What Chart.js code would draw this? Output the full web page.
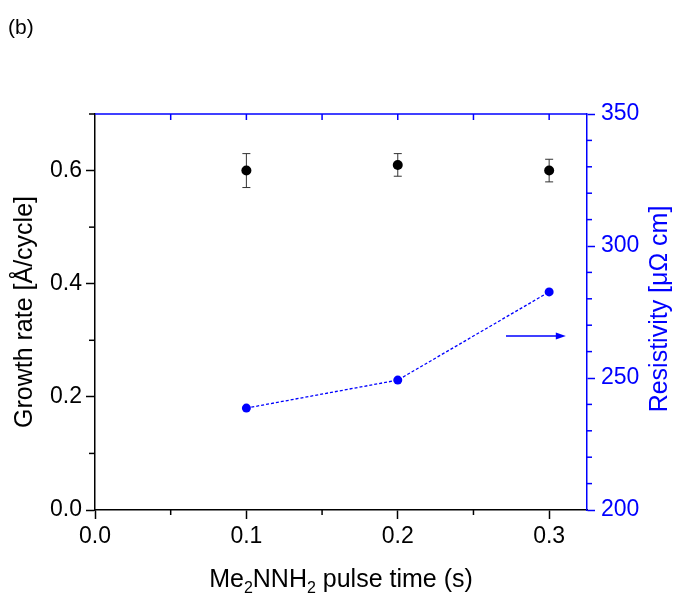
<!DOCTYPE html>
<html>
<head>
<meta charset="utf-8">
<script src="https://cdn.jsdelivr.net/npm/chart.js@4.4.1/dist/chart.umd.min.js"></script>
<style>
body{margin:0;background:#fff;}
canvas{display:block;}
</style>
</head>
<body>
<canvas id="chart" width="674" height="593"></canvas>
<script>
let pulseTime = [0.1, 0.2, 0.3];
let growthRate = [0.60, 0.61, 0.60];
let growthErr = [0.03, 0.02, 0.02];
let resistivity = [238.6, 249.2, 282.6];

let xLabels = [0, 0.1, 0.2, 0.3];
let leftLabels = [0, 0.2, 0.4, 0.6];
let rightLabels = [200, 250, 300, 350];

let blue = "#0000ff";
let font = "'Liberation Sans', Arial, sans-serif";

function isMajor(v, list){
return list.some(m => Math.abs(m - v) < 1e-7);
}

function onStep(v, step){
return Math.abs(v/step - Math.round(v/step)) < 1e-6;
}

function line(ctx, x1, y1, x2, y2){
ctx.beginPath();
ctx.moveTo(x1, y1);
ctx.lineTo(x2, y2);
ctx.stroke();
}

let framePlugin = {
id: "frame",
beforeDatasetsDraw(chart){
let ctx = chart.ctx;
let a = chart.chartArea;
let sx = chart.scales.x, sy = chart.scales.y, sy1 = chart.scales.y1;
ctx.save();
ctx.lineWidth = 1.5;

// minor ticks
ctx.strokeStyle = "#000";
sx.ticks.forEach(t => {
if(!isMajor(t.value, xLabels) && onStep(t.value, 0.05)){
let px = sx.getPixelForValue(t.value);
line(ctx, px, a.bottom, px, a.bottom + 5);
}
});
sy.ticks.forEach(t => {
if(!isMajor(t.value, leftLabels)){
let py = sy.getPixelForValue(t.value);
line(ctx, a.left, py, a.left - 6, py);
}
});
ctx.strokeStyle = blue;
sy1.ticks.forEach(t => {
if(!isMajor(t.value, rightLabels)){
let py = sy1.getPixelForValue(t.value);
line(ctx, a.right, py, a.right + 5, py);
}
});

// top frame
line(ctx, a.left, a.top, a.right, a.top);
sx.ticks.forEach(t => {
if(t.value > 0 && onStep(t.value, 0.05)){
let px = sx.getPixelForValue(t.value);
line(ctx, px, a.top, px, a.top + 6);
}
});

// error bars
ctx.strokeStyle = "#333";
ctx.lineWidth = 1;
for(let i = 0; i < pulseTime.length; i++){
let px = sx.getPixelForValue(pulseTime[i]);
let top = sy.getPixelForValue(growthRate[i] + growthErr[i]);
let bot = sy.getPixelForValue(growthRate[i] - growthErr[i]);
line(ctx, px, top, px, bot);
line(ctx, px - 4, top, px + 4, top);
line(ctx, px - 4, bot, px + 4, bot);
}
ctx.restore();
},
afterDraw(chart){
let ctx = chart.ctx;
let a = chart.chartArea;
let sx = chart.scales.x, sy1 = chart.scales.y1;
ctx.save();

ctx.fillStyle = "#000";
ctx.font = "21px " + font;
ctx.textBaseline = "middle";
ctx.textAlign = "left";
ctx.fillText("(b)", 8, 28);

// left title
ctx.font = "25px " + font;
ctx.textAlign = "center";
ctx.save();
ctx.translate(25, (a.top + a.bottom)/2);
ctx.rotate(-Math.PI/2);
ctx.fillText("Growth rate [Å/cycle]", 0, 0);
ctx.restore();

// right title
ctx.fillStyle = blue;
ctx.save();
ctx.translate(660, (a.top + a.bottom)/2 - 3);
ctx.rotate(-Math.PI/2);
ctx.fillText("Resistivity [μΩ cm]", 0, 0);
ctx.restore();

// x title with subscripts
ctx.fillStyle = "#000";
ctx.textAlign = "left";
ctx.textBaseline = "alphabetic";
let parts = [["Me", false], ["2", true], ["NNH", false], ["2", true], [" pulse time (s)", false]];
let total = 0;
parts.forEach(p => {
ctx.font = (p[1] ? "16px " : "25px ") + font;
total += ctx.measureText(p[0]).width;
});
let cx = (a.left + a.right)/2 - total/2;
parts.forEach(p => {
ctx.font = (p[1] ? "16px " : "25px ") + font;
ctx.fillText(p[0], cx, p[1] ? 593 : 587);
cx += ctx.measureText(p[0]).width;
});

// arrow pointing to right axis
let ax1 = sx.getPixelForValue(0.2715);
let ax2 = sx.getPixelForValue(0.311);
let ay = sy1.getPixelForValue(265.9);
ctx.strokeStyle = blue;
ctx.fillStyle = blue;
ctx.lineWidth = 1.3;
line(ctx, ax1, ay, ax2 - 8, ay);
ctx.beginPath();
ctx.moveTo(ax2, ay);
ctx.lineTo(ax2 - 10, ay - 3.5);
ctx.lineTo(ax2 - 10, ay + 3.5);
ctx.closePath();
ctx.fill();
ctx.restore();
}
};

Chart.defaults.font.family = font;

new Chart(document.getElementById("chart"), {
type: "scatter",
data: {
datasets: [{
label: "Growth rate",
data: pulseTime.map((x, i) => ({x: x, y: growthRate[i]})),
yAxisID: "y",
backgroundColor: "#000",
borderColor: "#000",
pointRadius: 5,
borderWidth: 0,
showLine: false
},{
label: "Resistivity",
data: pulseTime.map((x, i) => ({x: x, y: resistivity[i]})),
yAxisID: "y1",
backgroundColor: blue,
borderColor: blue,
pointBackgroundColor: blue,
pointBorderWidth: 0,
pointRadius: 4.5,
borderWidth: 1.3,
borderDash: [3, 2],
showLine: true
}]
},
options: {
responsive: false,
animation: false,
layout: {padding: {top: 114, left: 0, right: 0, bottom: 0}},
plugins: {legend: {display: false}, tooltip: {enabled: false}},
scales: {
x: {
type: "linear",
min: 0,
max: 0.325,
afterFit: s => { s.height = 83; },
border: {display: true, color: "#000", width: 1.5},
grid: {
drawOnChartArea: false,
tickLength: 9,
tickWidth: 1.5,
tickColor: c => isMajor(c.tick.value, xLabels) ? "#000" : "rgba(0,0,0,0)"
},
ticks: {
stepSize: 0.05,
includeBounds: false,
autoSkip: false,
maxRotation: 0,
padding: 4,
color: "#000",
font: {size: 23},
callback: v => isMajor(v, xLabels) ? v.toFixed(1) : ""
}
},
y: {
position: "left",
min: 0,
max: 0.7,
afterFit: s => { s.width = 95; },
border: {display: true, color: "#000", width: 1.5},
grid: {
drawOnChartArea: false,
tickLength: 9,
tickWidth: 1.5,
tickColor: c => isMajor(c.tick.value, leftLabels) ? "#000" : "rgba(0,0,0,0)"
},
ticks: {
stepSize: 0.1,
autoSkip: false,
padding: 4,
color: "#000",
font: {size: 23},
callback: v => isMajor(v, leftLabels) ? v.toFixed(1) : ""
}
},
y1: {
position: "right",
min: 200,
max: 350,
afterFit: s => { s.width = 87; },
border: {display: true, color: blue, width: 1.5},
grid: {
drawOnChartArea: false,
tickLength: 8,
tickWidth: 1.5,
tickColor: c => isMajor(c.tick.value, rightLabels) ? blue : "rgba(0,0,0,0)"
},
ticks: {
stepSize: 10,
autoSkip: false,
padding: 6,
color: blue,
font: {size: 23},
callback: v => isMajor(v, rightLabels) ? String(v) : ""
}
}
}
},
plugins: [framePlugin]
});
</script>
</body>
</html>
